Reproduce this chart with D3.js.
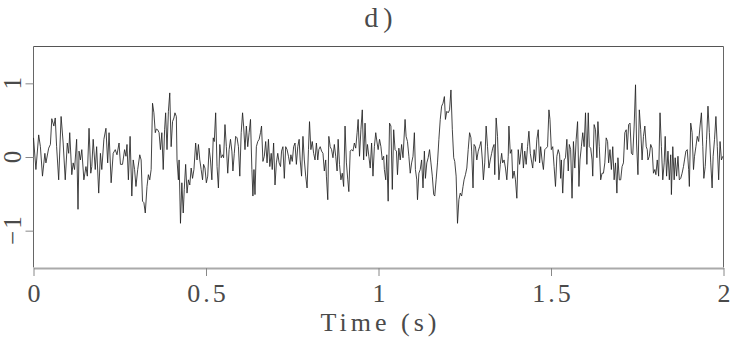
<!DOCTYPE html>
<html>
<head>
<meta charset="utf-8">
<script src="https://cdn.jsdelivr.net/npm/d3@7"></script>
<style>
  html, body { margin: 0; padding: 0; background: #fff; }
  svg { display: block; }
  text { font-family: "Liberation Serif", "DejaVu Serif", serif; fill: #4a4a4a; }
</style>
</head>
<body>
<svg id="chart" width="731" height="339"></svg>
<script>
// ---- data ----
const title = "d)";
const xLabel = "Time (s)";
const xTicks = [0, 0.5, 1, 1.5, 2];
const xTickLabels = ["0", "0.5", "1", "1.5", "2"];
const yTicks = [1, 0, -1];
const yTickLabels = ["1", "0", "\u22121"];
const xDomain = [0, 2];
const yDomain = [-1.5, 1.5];

const time = [
0.000,0.007,0.015,0.020,0.026,0.033,0.036,0.044,0.049,0.053,0.059,0.063,0.067,0.073,0.080,0.086,0.092,0.098,0.102,0.105,
0.111,0.115,0.119,0.125,0.129,0.132,0.136,0.140,0.146,0.152,0.156,0.161,0.166,0.169,0.173,0.179,0.183,0.189,0.194,0.198,
0.204,0.210,0.215,0.219,0.225,0.231,0.237,0.242,0.248,
0.252,0.258,0.264,0.268,0.271,0.275,0.280,0.285,0.289,0.293,0.297,0.302,0.308,0.312,0.316,0.320,0.324,0.329,0.333,0.337,
0.341,0.345,0.349,0.353,0.356,0.360,0.364,0.368,0.372,0.376,0.380,0.383,0.387,0.391,0.395,0.399,0.403,0.407,0.410,0.414,
0.416,0.420,0.422,0.426,0.430,0.434,0.437,0.441,0.445,0.449,0.453,0.457,0.461,0.465,0.470,0.474,0.478,0.482,0.486,0.490,
0.493,0.497,0.501,0.505,
0.509,0.513,0.517,0.521,0.524,0.528,0.532,0.536,0.540,0.544,0.548,0.551,0.555,0.559,0.563,0.567,0.571,0.575,0.578,0.582,
0.586,0.590,0.594,0.598,0.602,0.606,0.609,0.613,0.617,0.621,0.625,0.629,0.633,0.636,0.639,0.642,0.646,0.650,0.654,0.658,
0.661,0.665,0.669,0.673,0.677,0.681,0.685,0.689,0.692,0.696,0.700,0.704,0.708,0.712,0.716,0.719,0.723,0.727,0.731,0.735,
0.739,0.743,0.746,0.750,0.754,0.758,
0.762,0.766,0.770,0.773,0.777,0.781,0.785,0.789,0.793,0.797,0.800,0.804,0.808,0.812,0.816,0.820,0.824,0.827,0.831,0.835,
0.839,0.843,0.847,0.849,0.853,0.856,0.860,0.864,0.868,0.872,0.876,0.880,0.883,0.887,0.891,0.895,0.899,0.903,0.907,0.911,
0.914,0.918,0.922,0.926,0.930,0.934,0.938,0.941,0.945,0.949,0.953,0.957,0.961,0.965,0.968,0.972,0.976,0.980,0.984,0.988,
0.992,0.996,0.999,1.003,1.007,1.011,1.015,
1.017,1.021,1.024,1.028,1.032,1.036,1.040,1.044,1.048,1.052,1.055,1.059,1.063,1.067,1.071,1.077,1.080,1.084,1.088,1.092,
1.096,1.100,1.104,1.107,1.111,1.113,1.117,1.121,1.125,1.129,1.133,1.136,1.140,1.144,1.148,1.152,1.156,1.160,1.163,1.167,
1.171,1.175,1.179,1.183,1.187,1.191,1.194,1.198,1.202,1.206,1.210,1.214,1.218,1.221,1.225,1.229,1.233,1.237,1.241,1.245,
1.248,1.252,1.256,1.260,1.264,1.268,1.270,
1.274,1.277,1.281,1.285,1.289,1.293,1.297,1.301,1.304,1.308,1.312,1.316,1.320,1.324,1.328,1.331,1.335,1.337,1.341,1.345,
1.349,1.353,1.357,1.360,1.364,1.368,1.372,1.376,1.378,1.382,1.386,1.389,1.393,1.397,1.401,1.405,1.409,1.413,1.416,1.420,
1.424,1.428,1.432,1.436,1.440,1.443,1.447,1.451,1.455,1.459,1.463,1.467,1.470,1.474,1.478,1.482,1.486,1.490,1.494,1.497,
1.501,1.505,1.509,1.513,1.517,1.521,1.525,
1.528,1.530,1.534,1.538,1.542,1.546,1.550,1.553,1.557,1.561,1.565,1.569,1.573,1.577,1.581,1.584,1.588,1.592,1.596,1.600,
1.604,1.608,1.611,1.615,1.619,1.621,1.625,1.629,1.633,1.636,1.640,1.644,1.648,1.652,1.656,1.660,1.664,1.667,1.671,1.675,
1.679,1.683,1.687,1.691,1.694,1.698,1.702,1.706,1.710,1.714,1.718,1.721,1.725,1.729,1.733,1.737,1.741,1.745,1.748,1.752,
1.756,1.760,1.764,1.768,1.772,1.776,1.779,
1.781,1.785,1.789,1.793,1.797,1.801,1.804,1.808,1.812,1.816,1.820,1.824,1.828,1.831,1.835,1.839,1.843,1.847,1.849,1.853,
1.857,1.860,1.864,1.868,1.872,1.876,1.880,1.884,1.887,1.891,1.895,1.899,1.901,1.905,1.909,1.913,1.916,1.920,1.924,1.928,
1.932,1.936,1.940,1.943,1.947,1.951,1.955,1.959,1.963,1.967,1.970,1.974,1.978,1.982,1.986,1.990,1.994,1.998
];

const amplitude = [
0.26,-0.17,0.30,0.14,-0.26,0.05,-0.08,0.12,0.17,0.52,0.42,0.53,0.14,-0.31,0.55,0.19,-0.31,0.19,0.05,0.33,
-0.24,-0.08,-0.17,0.24,-0.71,0.08,-0.04,0.10,-0.31,-0.13,-0.26,0.39,-0.22,-0.13,0.24,-0.17,0.14,-0.49,0.05,-0.17,
0.24,0.39,-0.08,0.33,-0.35,0.05,0.10,0.03,0.19,
-0.10,-0.10,0.10,0.01,0.17,-0.31,0.28,-0.53,-0.04,-0.17,-0.40,-0.17,0.03,-0.04,-0.60,-0.62,-0.76,-0.40,-0.24,-0.31,
-0.17,0.73,0.60,0.33,0.38,0.37,0.33,0.10,0.33,-0.17,0.37,0.60,0.10,0.62,0.87,0.14,0.48,0.53,0.60,0.55,
-0.04,-0.31,-0.04,-0.90,-0.35,-0.76,-0.44,-0.10,-0.49,-0.31,-0.38,-0.15,-0.29,-0.17,0.19,-0.04,0.17,-0.04,-0.17,-0.31,
-0.10,-0.15,-0.35,-0.26,
0.12,-0.04,-0.31,0.26,0.21,0.60,-0.13,-0.42,0.17,-0.01,0.03,-0.01,0.44,0.14,-0.22,0.10,0.24,0.08,-0.19,0.05,
0.28,0.26,0.14,-0.26,0.33,0.60,0.42,0.10,0.42,0.14,0.33,0.51,-0.17,-0.53,-0.17,-0.51,0.14,0.21,0.24,0.33,
0.42,-0.06,0.01,0.21,-0.08,0.24,-0.13,0.05,-0.17,0.19,-0.38,-0.08,0.05,-0.08,-0.13,0.08,0.14,-0.29,0.14,0.10,
0.01,-0.10,0.03,-0.06,0.14,0.19,
-0.10,0.14,0.24,-0.04,-0.26,0.28,-0.04,-0.26,-0.42,0.10,0.48,0.10,0.21,0.05,-0.04,0.19,-0.04,0.10,0.14,0.08,
0.05,-0.19,-0.04,-0.26,-0.58,0.28,0.14,0.10,-0.01,0.17,0.01,-0.19,0.24,-0.10,-0.31,-0.22,-0.40,0.42,-0.08,-0.31,
-0.47,0.08,0.10,0.08,0.19,0.12,0.33,0.51,0.01,0.37,0.64,-0.04,0.46,0.01,0.17,0.01,-0.15,0.19,-0.26,0.14,
0.33,0.19,0.10,0.24,0.14,-0.04,0.01,
-0.17,-0.31,0.03,-0.60,0.46,0.42,-0.44,0.37,0.10,0.08,-0.24,0.12,-0.04,0.17,-0.01,0.51,0.28,0.21,0.01,-0.22,
-0.08,0.01,0.33,-0.17,-0.31,-0.58,-0.22,-0.17,-0.04,-0.42,0.08,-0.29,-0.08,-0.01,0.10,-0.08,-0.26,-0.51,-0.53,-0.31,
-0.08,0.24,0.51,0.69,0.73,0.82,0.51,0.62,0.60,0.64,0.91,0.37,-0.01,-0.06,-0.26,-0.90,-0.58,-0.49,-0.53,-0.40,
-0.31,-0.24,-0.15,0.10,0.33,0.26,0.08,
-0.42,0.17,0.14,-0.04,0.08,0.14,0.21,-0.04,-0.31,-0.08,0.42,0.14,-0.15,-0.04,0.05,0.12,0.17,-0.24,0.53,0.28,
-0.31,-0.10,0.05,-0.08,-0.04,-0.15,-0.31,0.01,0.42,0.05,0.10,-0.29,-0.19,-0.31,-0.56,0.10,-0.10,0.08,0.19,-0.15,
0.08,-0.10,0.14,0.35,0.05,-0.04,-0.15,0.10,-0.06,0.24,0.37,-0.08,0.14,-0.04,-0.17,0.10,0.12,0.14,0.64,0.51,
0.10,0.14,-0.13,-0.40,0.01,0.10,0.03,
-0.29,-0.04,-0.49,-0.04,-0.01,0.24,-0.19,0.17,0.10,-0.56,0.21,-0.15,0.24,0.48,-0.40,-0.04,0.14,0.33,0.14,0.60,
-0.10,0.60,0.14,0.12,-0.04,-0.26,0.44,0.37,-0.01,0.48,0.14,-0.31,-0.22,-0.22,-0.08,0.26,0.21,-0.08,0.10,-0.17,
0.14,-0.31,-0.08,-0.49,-0.01,-0.31,-0.31,-0.13,-0.08,0.33,0.37,0.10,0.44,0.46,0.05,0.03,0.42,0.98,0.19,-0.24,
0.64,0.37,-0.04,0.28,0.42,0.14,0.10,
-0.04,0.01,0.17,0.12,-0.22,-0.17,-0.24,-0.04,-0.26,0.60,0.14,-0.31,-0.08,0.28,-0.26,0.08,-0.31,0.03,-0.51,0.14,
-0.31,-0.01,-0.26,0.01,-0.31,-0.29,-0.22,-0.13,-0.04,0.08,0.10,-0.17,-0.40,0.46,0.33,-0.17,0.01,0.14,0.28,0.21,
0.42,0.60,0.14,-0.29,-0.13,0.24,0.69,0.33,-0.08,-0.42,0.01,0.24,0.55,0.14,-0.31,0.21,-0.04,0.01
];

// ---- drawing ----
const svg = d3.select("#chart");
const plot = { left: 33.5, right: 723.5, top: 46.5, bottom: 267.5 };

const x = d3.scaleLinear().domain(xDomain).range([plot.left, plot.right]);
const y = d3.scaleLinear().domain(yDomain).range([plot.bottom, plot.top]);

const series = time.map((t, i) => [t, amplitude[i]]);

// frame
svg.append("line").attr("x1", plot.left).attr("x2", plot.right).attr("y1", plot.top).attr("y2", plot.top)
  .attr("stroke", "#555").attr("stroke-width", 1);
svg.append("line").attr("x1", plot.left).attr("x2", plot.left).attr("y1", plot.top).attr("y2", plot.bottom)
  .attr("stroke", "#666").attr("stroke-width", 1);
svg.append("line").attr("x1", plot.right).attr("x2", plot.right).attr("y1", plot.top).attr("y2", plot.bottom)
  .attr("stroke", "#666").attr("stroke-width", 1);

// signal
svg.append("path")
  .datum(series)
  .attr("fill", "none")
  .attr("stroke", "#222")
  .attr("stroke-width", 0.85)
  .attr("stroke-linejoin", "round")
  .attr("d", d3.line().x(d => x(d[0])).y(d => y(d[1])));

// bottom axis
const xAxis = d3.axisBottom(x).tickValues(xTicks)
  .tickFormat((d, i) => xTickLabels[i]).tickSize(8).tickSizeOuter(0).tickPadding(8);
const gx = svg.append("g").attr("transform", `translate(0,${plot.bottom + 0.5})`).call(xAxis);
gx.select(".domain").attr("stroke", "#aaa").attr("stroke-width", 2);
gx.selectAll(".tick line").attr("stroke", "#888");
gx.selectAll(".tick text")
  .attr("font-family", "Liberation Serif, DejaVu Serif, serif")
  .attr("font-size", 26).attr("fill", "#4a4a4a").attr("dy", "0.7em")
  .attr("letter-spacing", 3).attr("dx", 1.5);

// left axis
const yAxis = d3.axisLeft(y).tickValues(yTicks).tickFormat("").tickSize(8).tickSizeOuter(0);
const gy = svg.append("g").attr("transform", `translate(${plot.left},0)`).call(yAxis);
gy.select(".domain").remove();
gy.selectAll(".tick line").attr("stroke", "#888");
svg.append("g").selectAll("text")
  .data(yTicks)
  .join("text")
  .attr("transform", d => `translate(20.5,${y(d)}) rotate(-90)`)
  .attr("text-anchor", "middle")
  .attr("font-size", 25)
  .attr("letter-spacing", 2).attr("dx", 1)
  .text((d, i) => yTickLabels[i]);

// title and axis label
svg.append("text")
  .attr("x", (plot.left + plot.right) / 2).attr("y", 27)
  .attr("text-anchor", "middle").attr("font-size", 28)
  .attr("letter-spacing", 5).attr("dx", 2.5)
  .text(title);
svg.append("text")
  .attr("x", (plot.left + plot.right) / 2).attr("y", 331)
  .attr("text-anchor", "middle").attr("font-size", 26)
  .attr("letter-spacing", 4).attr("dx", 2)
  .text(xLabel);
</script>
</body>
</html>
